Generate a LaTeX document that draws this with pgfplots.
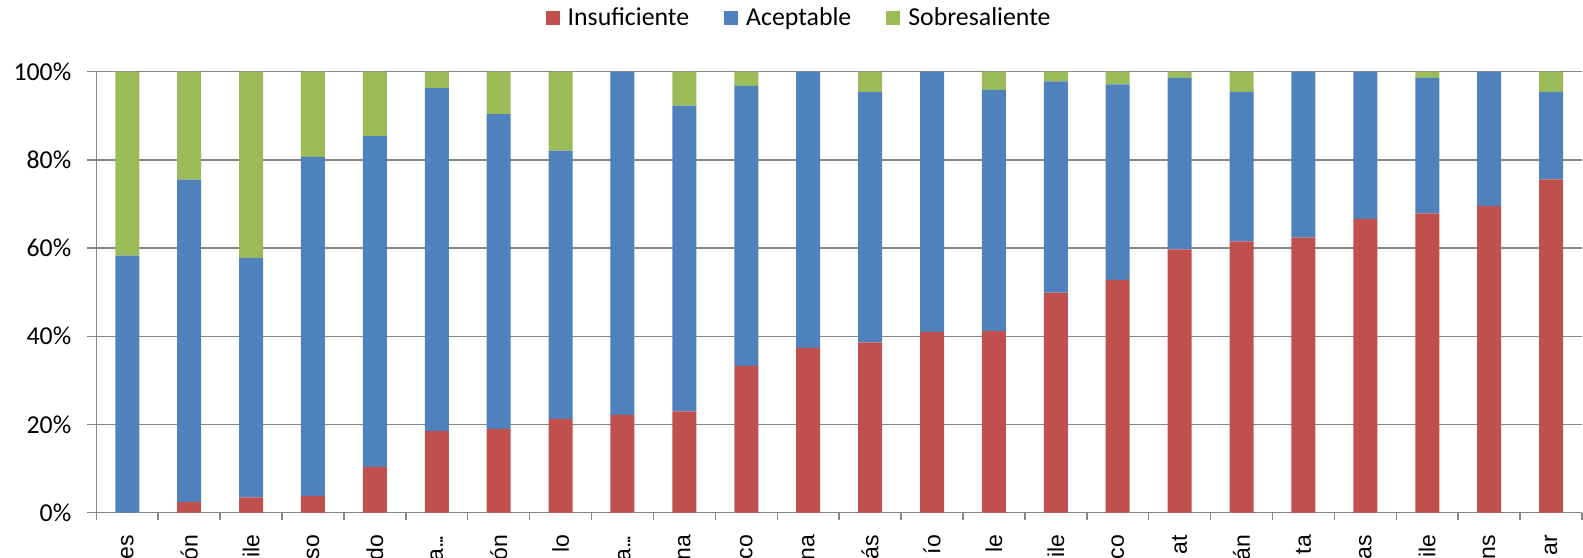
\documentclass[border=0pt]{standalone}
\usepackage{pgfplots}
\pgfplotsset{compat=1.18}
\usepackage{pgfplotstable}
\usepackage{fontspec}
\setmainfont{Carlito}
\newfontfamily\arialf{Liberation Sans}
\definecolor{cR}{HTML}{C0504D}
\definecolor{cA}{HTML}{4F81BD}
\definecolor{cS}{HTML}{9BBB59}
\definecolor{gridc}{HTML}{868686}
\newcommand{\dotsc}{.\kern-1.4pt.\kern-1.4pt.}
\pgfplotstableread{
x R A S
1 0 58.3 41.7
2 2.4 73.1 24.5
3 3.5 54.3 42.2
4 3.8 76.9 19.3
5 10.4 75.0 14.6
6 18.5 77.8 3.7
7 19.0 71.4 9.6
8 21.3 60.8 17.9
9 22.2 77.8 0
10 23.0 69.3 7.7
11 33.3 63.5 3.2
12 37.4 62.6 0
13 38.6 56.8 4.6
14 41.0 59.0 0
15 41.2 54.7 4.1
16 49.9 47.9 2.2
17 52.8 44.3 2.9
18 59.7 38.9 1.4
19 61.5 33.9 4.6
20 62.4 37.6 0
21 66.6 33.4 0
22 67.9 30.7 1.4
23 69.5 30.5 0
24 75.6 19.8 4.6
}\data
\begin{document}
\begin{tikzpicture}
\begin{axis}[
  scale only axis, width=742.85pt, height=220.5pt,
  xmin=0.5, xmax=24.5, ymin=0, ymax=100,
  ybar stacked, bar width=12pt,
  axis x line*=bottom, axis y line*=left,
  axis line style={gridc, line width=0.75pt},
  ymajorgrids, grid style={gridc, line width=0.75pt},
  ytick={0,20,...,100}, yticklabels={0\%,20\%,40\%,60\%,80\%,100\%},
  xtick={1,...,24},
  xticklabels={es,ón,ile,so,do,va\dotsc,ón,lo,La\dotsc,na,co,na,ás,ío,le,ile,co,at,án,ta,as,ile,ns,ar},
  minor xtick={0.5,1.5,...,24.5},
  tick align=outside, major tick length=4.5pt, minor tick length=3.5pt,
  major x tick style={draw=none},
  minor x tick style={gridc, line width=0.75pt},
  ytick style={gridc, line width=0.75pt},
  yticklabel style={font=\fontsize{12.9}{15}\selectfont, xshift=-4.5pt},
  xticklabel style={font=\arialf\fontsize{11.5}{13}\selectfont, rotate=90, anchor=east, inner sep=0pt},
  xticklabel shift=6.4pt,
  legend style={at={(0.4737,1.1218)}, anchor=center, draw=none, fill=none,
    legend columns=3, font=\fontsize{12.9}{15}\selectfont,
    /tikz/every even column/.append style={column sep=15.5pt}},
  legend cell align=left,
  legend image code/.code={\fill[#1] (0pt,-3.5pt) rectangle (7pt,3.5pt); \path (0pt,0pt) -- (9pt,0pt);},
]
\addplot[fill=cR, draw=none] table[x=x, y=R] {\data};
\addplot[fill=cA, draw=none] table[x=x, y=A] {\data};
\addplot[fill=cS, draw=none] table[x=x, y=S] {\data};
\legend{Insuficiente, Aceptable, Sobresaliente}
\end{axis}
\pgfresetboundingbox
\useasboundingbox (-48.15pt,-22.15pt) rectangle (743.35pt,256.35pt);
\end{tikzpicture}
\end{document}
